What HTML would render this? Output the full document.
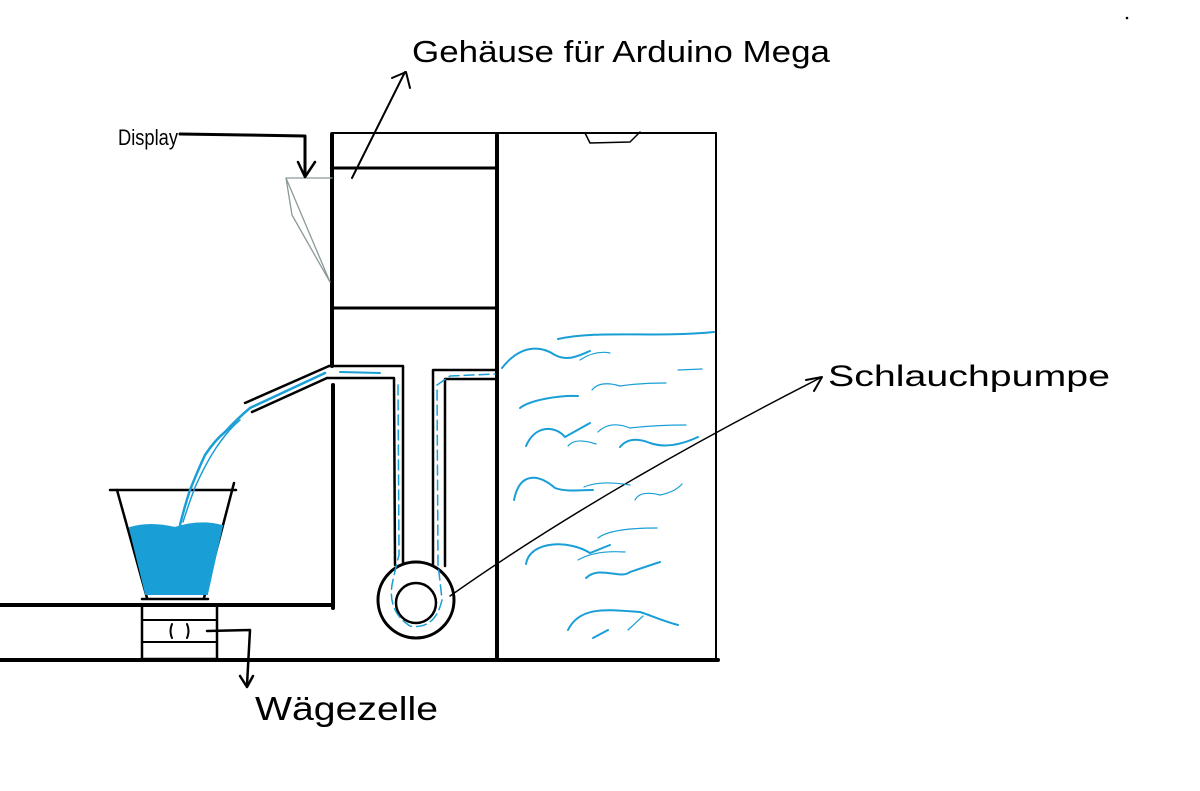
<!DOCTYPE html>
<html><head><meta charset="utf-8"><style>
html,body{margin:0;padding:0;background:#fff;}
svg{display:block;}
text{font-family:"Liberation Sans",sans-serif;}
</style></head><body>
<svg width="1200" height="791" viewBox="0 0 1200 791" xmlns="http://www.w3.org/2000/svg">
<g fill="none" stroke="#000" stroke-linecap="round" stroke-linejoin="round">
 <!-- housing -->
 <line x1="332" y1="133" x2="716" y2="133" stroke-width="2"/>
 <line x1="332" y1="134" x2="332" y2="366" stroke-width="4"/>
 <line x1="333" y1="385" x2="333" y2="608" stroke-width="4"/>
 <line x1="497" y1="135" x2="497" y2="660" stroke-width="4"/>
 <line x1="716" y1="133" x2="716" y2="660" stroke-width="2"/>
 <line x1="334" y1="168" x2="496" y2="168" stroke-width="3"/>
 <line x1="334" y1="308" x2="496" y2="308" stroke-width="3"/>
 <!-- lid -->
 <path d="M585,133 L590,143 L630,142 L640,132" stroke-width="1.5"/>
 <!-- floors -->
 <line x1="0" y1="605" x2="333" y2="605" stroke-width="4"/>
 <line x1="0" y1="660" x2="718" y2="660" stroke-width="4"/>
 <!-- load cell -->
 <rect x="142" y="605" width="75" height="54" stroke-width="2.5"/>
 <line x1="143" y1="620" x2="216" y2="620" stroke-width="2"/>
 <line x1="143" y1="642" x2="216" y2="642" stroke-width="2"/>
 <path d="M172,624 Q169,631 172,638 M187,624 Q190,631 187,638" stroke-width="2"/>
 <path d="M207,631 L250,630 L247,685" stroke-width="2.5"/>
 <path d="M240,676 L247,687 L253,676" stroke-width="2.5"/>
 <!-- cup -->
 <line x1="110" y1="490" x2="236" y2="490" stroke-width="2.5"/>
 <line x1="117" y1="490" x2="147" y2="598" stroke-width="2.5"/>
 <line x1="234" y1="483" x2="204" y2="598" stroke-width="2.5"/>
 <line x1="142" y1="599" x2="208" y2="599" stroke-width="2.5"/>
 <!-- pipes -->
 <line x1="245" y1="403" x2="329" y2="366" stroke-width="2.5"/>
 <line x1="252" y1="412" x2="327" y2="378" stroke-width="2.5"/>
 <path d="M329,366 L403,366 L403,562" stroke-width="2.5"/>
 <path d="M327,378 L394,378 L395,565" stroke-width="2.5"/>
 <path d="M433,564 L433,370 L496,370" stroke-width="2.5"/>
 <path d="M445,566 L445,379 L496,379" stroke-width="2.5"/>
 <circle cx="416" cy="600" r="38" stroke-width="3"/>
 <circle cx="416" cy="603" r="20" stroke-width="2.5"/>
 <!-- pump pointer -->
 <path d="M450,596 Q600,490 820,378" stroke-width="1.5"/>
 <path d="M806,380 L822,377 L814,391" stroke-width="2"/>
 <!-- display -->
 <path d="M286,178 L332,178 M286,178 L292,215 L330,282 M286,178 L330,282" stroke="#8a9a9a" stroke-width="1.3"/>
 <path d="M180,134 L245,135 L305,136 L305,175" stroke-width="3"/>
 <path d="M298,162 L305,177 L315,162" stroke-width="2.5"/>
 <!-- Gehäuse arrow -->
 <path d="M352,178 L405,72" stroke-width="2"/>
 <path d="M392,78 L406,72 L410,88" stroke-width="2"/>
 <circle cx="1127" cy="18" r="0.8" fill="#000"/>
</g>
<!-- water -->
<g fill="none" stroke="#1a9ed6" stroke-linecap="round" stroke-width="2">
 <path d="M130,528 Q150,522 175,528 Q200,520 222,526 L207,594 L146,594 Z" fill="#1a9ed6" stroke-width="2"/>
 <path d="M180,525 Q185,505 190,490 Q198,470 205,455 Q215,440 225,432 Q238,418 250,408 L325,373" stroke-width="2.5"/>
 <path d="M183,522 Q190,500 196,485 Q206,463 216,448 Q228,430 240,420" stroke-width="1.5"/>
 <path d="M340,372 L380,373" stroke-width="2"/>
 <path d="M398,385 L399,555 Q395,570 392,585 Q388,612 410,626 Q435,630 442,600 Q440,580 438,565 L437,385 L450,376 L495,374" stroke-dasharray="10 5" stroke-width="1.5"/>
 <path d="M558,339 C600,330 650,338 714,332"/>
 <path d="M502,368 C520,345 540,345 555,355 C568,362 580,355 590,351"/>
 <path d="M580,360 Q595,350 610,353" stroke-width="1.2"/>
 <path d="M520,408 C530,400 560,395 578,396"/>
 <path d="M592,390 Q600,380 620,386 Q640,383 666,383" stroke-width="1.2"/>
 <path d="M678,370 L702,369" stroke-width="1.2"/>
 <path d="M526,446 C535,425 555,425 565,437 L590,423"/>
 <path d="M568,446 Q575,437 596,444" stroke-width="1.2"/>
 <path d="M598,432 Q610,420 630,428 Q655,425 686,425" stroke-width="1.2"/>
 <path d="M620,447 Q630,435 650,443 Q670,450 698,437"/>
 <path d="M514,500 C520,470 540,475 555,488 C565,492 580,490 593,490"/>
 <path d="M584,487 Q600,480 630,485" stroke-width="1.2"/>
 <path d="M635,500 Q640,490 660,495 Q675,492 682,484" stroke-width="1.2"/>
 <path d="M526,564 C530,540 570,540 590,553 L610,545"/>
 <path d="M598,538 Q610,528 657,528" stroke-width="1.2"/>
 <path d="M578,560 Q595,550 625,552" stroke-width="1.2"/>
 <path d="M586,578 C600,565 620,580 630,572 L660,562"/>
 <path d="M568,630 C580,605 610,610 640,612 C650,615 660,620 678,625"/>
 <path d="M593,638 L608,630"/>
 <path d="M628,630 L643,616" stroke-width="1.2"/>
</g>
<!-- labels -->
<g font-family="'Liberation Sans',sans-serif" fill="#000">
 <text x="412" y="62" font-size="31" textLength="418" lengthAdjust="spacingAndGlyphs">Gehäuse für Arduino Mega</text>
 <text x="118" y="145" font-size="22" textLength="60" lengthAdjust="spacingAndGlyphs">Display</text>
 <text x="828" y="386" font-size="30" textLength="282" lengthAdjust="spacingAndGlyphs">Schlauchpumpe</text>
 <text x="255" y="720" font-size="33" textLength="183" lengthAdjust="spacingAndGlyphs">Wägezelle</text>
</g>
</svg>
</body></html>
